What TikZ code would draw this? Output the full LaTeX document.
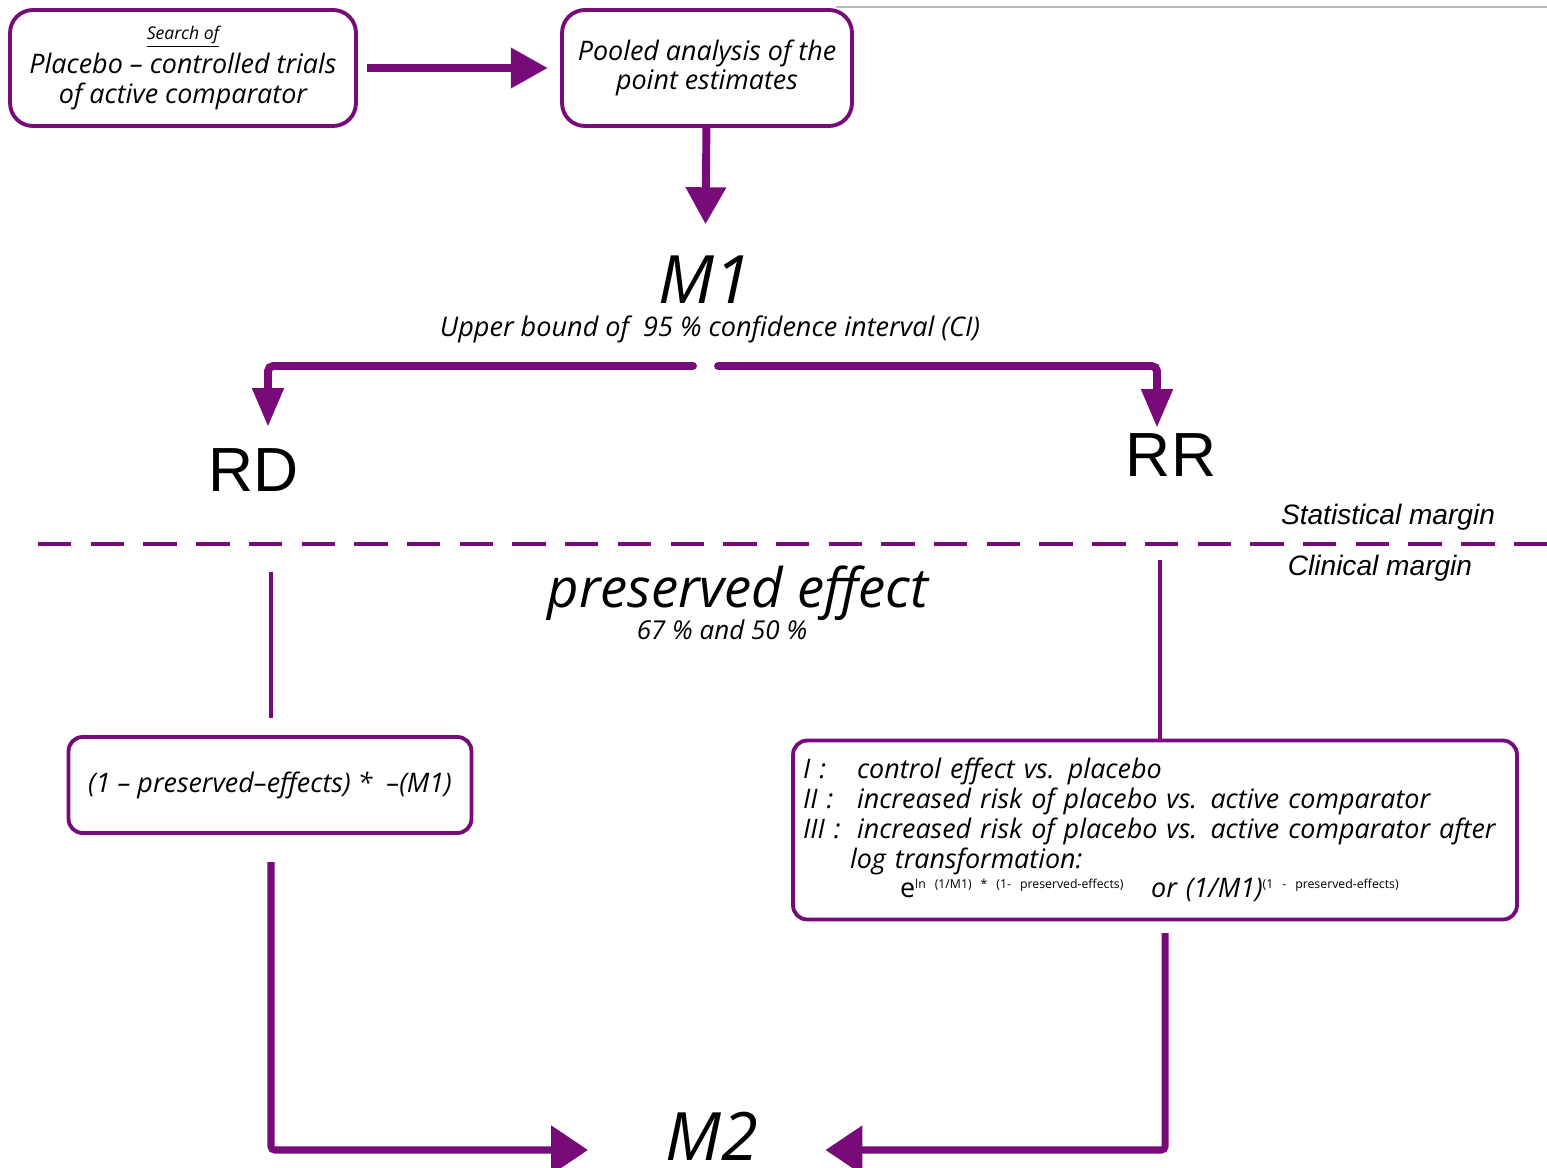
\documentclass[tikz,border=0pt]{standalone}
\usepackage{fontspec}
\setmainfont{Open Sans}
\newfontfamily\headfont{Liberation Sans}
\usetikzlibrary{arrows.meta,positioning}
\definecolor{plum}{RGB}{120,10,122}

\begin{document}
\begin{tikzpicture}[
        x=0.02cm, y=-0.02cm,
        stepbox/.style={draw=plum, line width=2.2pt, rounded corners=13pt, fill=white, align=center, font=\itshape\fontsize{15.3}{17}\selectfont},
        flow/.style={plum, line width=4.5pt, -{Triangle[length=21pt,width=22pt]}},
        branch/.style={plum, line width=4.5pt, line cap=round, rounded corners=3pt, -{Triangle[length=22pt,width=17pt]}},
        link/.style={plum, line width=2.3pt},
        big_label/.style={font=\itshape\fontsize{38}{38}\selectfont, inner sep=0pt},
        small_label/.style={font=\itshape\fontsize{15.4}{17}\selectfont, inner sep=0pt},
        rd_label/.style={font=\headfont\fontsize{35.5}{36}\selectfont},
        margin_label/.style={font=\headfont\itshape\fontsize{16}{18}\selectfont}
    ]
    \useasboundingbox (0,0) rectangle (1547,1168);

    % okraj stránky nahoře
    \draw[gray!55, line width=0.8pt] (836,7) -- (1547,7);

    % Vyhledání studií a společná analýza
    \node[stepbox, minimum width=6.92cm, minimum height=2.32cm] (search) at (183,68)
        {{\fontsize{10}{11}\selectfont\underline{Search of}}\\[2pt] Placebo – controlled trials\\ of active comparator};
    \node[stepbox, minimum width=5.8cm, minimum height=2.32cm] (pooled) at (707,68)
        {Pooled analysis of the\\ point estimates};

    % M1 a dolní mez intervalu
    \node[big_label] (m1) at (705,280) {M1};
    \node[small_label] (ci) at (710,329) {Upper bound of\ \ 95 \% confidence interval (CI)};

    \node[rd_label] (rd) at (254,470) {RD};
    \node[rd_label] (rr) at (1171,455) {RR};

    % Statistická a klinická hranice
    \node[margin_label] (stat) at (1388,517) {Statistical margin};
    \node[margin_label] (clin) at (1380,568) {Clinical margin};
    \draw[plum, line width=2.8pt, dash pattern=on 19pt off 11pt] (38,544) -- (1547,544);

    \node[font=\itshape\fontsize{31}{31}\selectfont, inner sep=0pt] (preserved) at (738,593) {preserved effect};
    \node[font=\itshape\fontsize{14.8}{16}\selectfont, inner sep=0pt] (percent) at (722,630) {67 \% and 50 \%};

    % Výpočet M2 pro RD a RR
    \node[stepbox, rounded corners=8pt, minimum width=8.06cm, minimum height=1.92cm] (rdbox) at (270,785)
        {(1 – preserved–effects) *\ \ –(M1)};
    \node[stepbox, rounded corners=8pt, align=left, text width=14.08cm, inner xsep=0.2cm, minimum height=3.58cm] (rrbox) at (1155,830)
        {\makebox[1.08cm][l]{I :}control effect vs. placebo\\
         \makebox[1.08cm][l]{II :}increased risk of placebo vs. active comparator\\
         \makebox[1.08cm][l]{III :}increased risk of placebo vs. active comparator after\\
         \hspace*{0.94cm}log transformation:\\[0pt]
         \hspace*{1.94cm}{\upshape e}\textsuperscript{\upshape\fontsize{7}{8}\selectfont ln (1/M1) * (1- preserved-effects)}\ \ \ or (1/M1)\textsuperscript{\upshape\fontsize{7}{8}\selectfont (1 - preserved-effects)}};

    \node[big_label] (m2) at (712,1136) {M2};

    % Volné konce spojnic
    \coordinate (splitL) at (693,366);
    \coordinate (splitR) at (718,366);
    \coordinate (rdMargin) at (271,572);
    \coordinate (rrMargin) at (1160,560);
    \coordinate (rdOut) at (271,862);
    \coordinate (rrOut) at (1165,933);

    % Spojnice
    \draw[flow, shorten <=5pt, shorten >=7pt] (search) -- (pooled);
    \draw[flow, shorten >=18pt] (pooled) -- (m1);
    \draw[branch] (splitL) -| ([xshift=0.28cm, yshift=8.8pt]rd.north);
    \draw[branch] (splitR) -| ([xshift=-0.28cm, yshift=-0.3pt]rr.north);
    \draw[link, shorten >=10pt] (rdMargin) -- (rdbox.north -| rdMargin);
    \draw[link] (rrMargin) -- (rrbox.north -| rrMargin);
    \draw[flow, line width=4pt, rounded corners=2pt, -{Triangle[length=21pt,width=27pt]}] (rdOut) |- ([xshift=-44pt, yshift=-0.28cm]m2.west);
    \draw[flow, line width=4pt, rounded corners=2pt, -{Triangle[length=21pt,width=27pt]}] (rrOut) |- ([xshift=38pt, yshift=-0.28cm]m2.east);

\end{tikzpicture}
\end{document}
